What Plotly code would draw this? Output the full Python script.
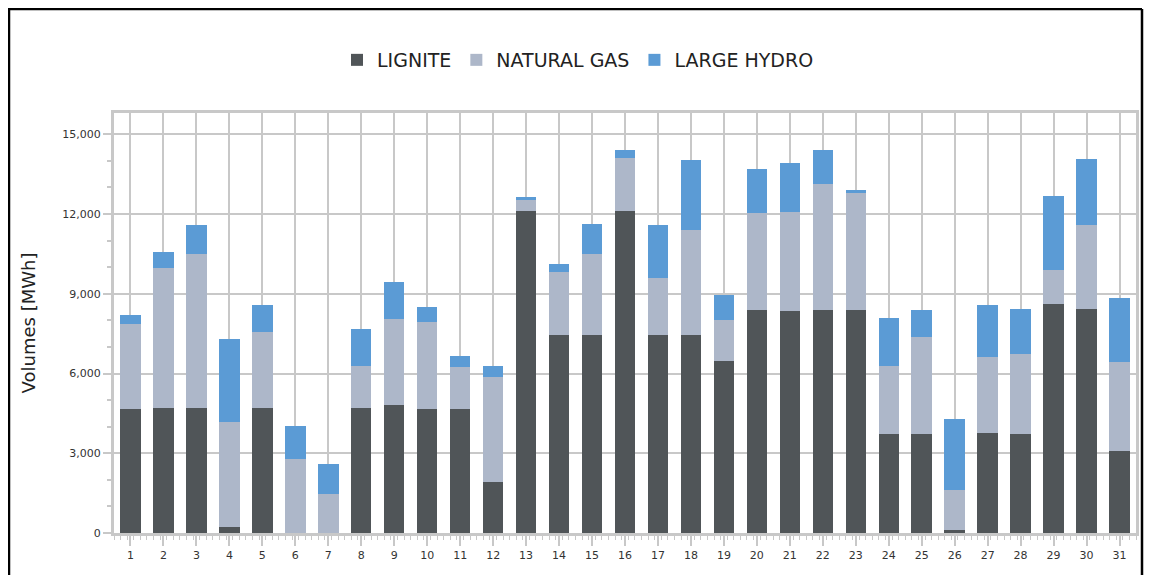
import plotly.graph_objects as go

days = list(range(1, 32))
lignite = [4650, 4690, 4690, 240, 4690, 0, 0, 4690, 4800, 4650, 4650, 1930, 12110,
           7440, 7440, 12110, 7440, 7440, 6460, 8380, 8340, 8380, 8380, 3710, 3740,
           130, 3780, 3710, 8600, 8420, 3070]
gas = [3200, 5270, 5800, 3920, 2860, 2800, 1480, 1580, 3240, 3280, 1580, 3920, 410,
       2370, 3050, 2000, 2150, 3950, 1550, 3650, 3730, 4750, 4410, 2560, 3620,
       1470, 2830, 3010, 1280, 3160, 3350]
hydro = [340, 600, 1090, 3130, 1020, 1240, 1130, 1400, 1400, 570, 410, 450, 110,
         300, 1130, 300, 2000, 2640, 940, 1660, 1850, 1280, 110, 1810, 1020,
         2680, 1960, 1700, 2790, 2490, 2410]

series = [("LIGNITE", lignite, "#505558"), ("NATURAL GAS", gas, "#adb7c9"),
          ("LARGE HYDRO", hydro, "#5b9bd5")]

fig = go.Figure()
for name, vals, col in series:
    fig.add_trace(go.Bar(x=days, y=vals, name=name, marker=dict(color=col, line_width=0)))

grid = "#c8c8c8"
OX, OY = 8, 8  # page offset
W, H = 1144, 567
L, T, R, B = 114 - OX, 113 - OY, 1136 - OX, 533 - OY
fig.update_layout(
    barmode="stack", bargap=0.38, width=W, height=H,
    paper_bgcolor="white", plot_bgcolor="white",
    margin=dict(l=L, r=W - R, t=T, b=H - B, autoexpand=False),
    font=dict(family="DejaVu Sans", color="#333"),
    legend=dict(orientation="h", x=(578 - OX - L) / (R - L), xanchor="center",
                y=1 + (T - (60 - OY)) / (B - T), yanchor="middle",
                bgcolor="rgba(0,0,0,0)",
                font=dict(size=19, color="#222"), traceorder="normal"),
    xaxis=dict(range=[0.5, 31.5], tickmode="linear", dtick=1, tick0=1, automargin=False,
               showgrid=True, gridcolor=grid, gridwidth=2,
               showline=True, linecolor=grid, linewidth=3, mirror=True,
               ticks="outside", ticklen=10, tickwidth=2, tickcolor=grid,
               tickfont=dict(size=11, color="#333"),
               minor=dict(dtick=0.2, tick0=0.5, ticks="outside", ticklen=4, tickcolor=grid, tickwidth=1)),
    yaxis=dict(range=[0, 15800], tickmode="linear", dtick=3000, tickformat=",", automargin=False,
               showgrid=True, gridcolor=grid, gridwidth=2,
               showline=True, linecolor=grid, linewidth=3, mirror=True,
               ticks="outside", ticklen=8, tickwidth=2, tickcolor=grid,
               tickfont=dict(size=11, color="#333"),
               title=dict(text="Volumes [MWh]", font=dict(size=18, color="#222"), standoff=22),
               minor=dict(dtick=1000, ticks="outside", ticklen=4, tickcolor=grid)),
)
def px(x): return (x - OX - L) / (R - L)
def py(y): return (B - (y - OY)) / (B - T)
for x0, y0, x1, y1 in [(8, 9, 1142, 9), (9, 9, 9, 575), (1142, 9, 1142, 575)]:
    fig.add_shape(type="line", xref="paper", yref="paper", x0=px(x0), x1=px(x1),
                  y0=py(y0), y1=py(y1), line=dict(color="black", width=2.5))
fig.write_html("out.html")
